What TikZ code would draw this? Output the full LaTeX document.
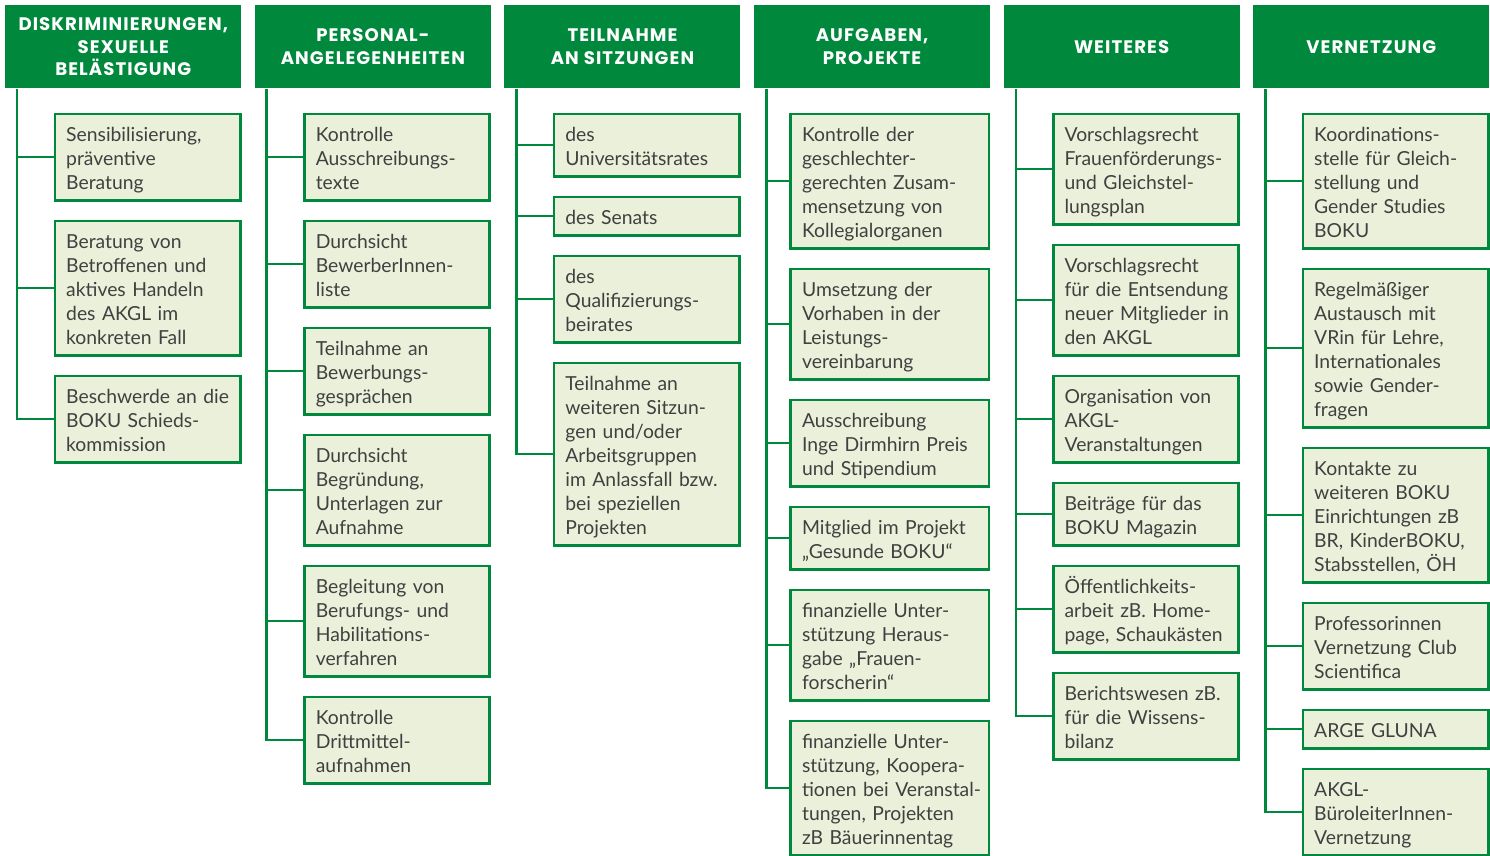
\documentclass[tikz,border=0pt]{standalone}
\usepackage{fontspec}
\setmainfont{Lato}
\newfontfamily\headfont[LetterSpace=6]{Poppins}
\usetikzlibrary{positioning}
\definecolor{gg}{RGB}{0,137,60}
\definecolor{lg}{RGB}{234,240,217}
\definecolor{tx}{RGB}{64,64,64}
\hyphenpenalty=10000
\exhyphenpenalty=10000
\hbadness=10000
\hfuzz=20pt

\begin{document}
\begin{tikzpicture}[
	head/.style={fill=gg, text=white, font=\headfont\bfseries\fontsize{13.6}{16.9}\selectfont,
		align=center, minimum width=177pt, minimum height=62.25pt, inner sep=0pt, anchor=north west},
	box/.style={draw=gg, line width=2pt, fill=lg, text=tx, font=\fontsize{14.5}{18}\selectfont,
		align=left, text width=122pt, inner xsep=8.5pt, inner ysep=0pt,
		execute at begin node={\rule{0pt}{20.75pt}}, execute at end node={\rule[-8pt]{0pt}{8pt}}},
	wbox/.style={box, text width=131.7pt},
	link/.style={draw=gg, line width=2pt}]
 	\useasboundingbox (0,0) rectangle (1117.5pt,-642pt);
 	% headers
 	\node[head] (h1) at (3.75pt,-3.75pt) {DISKRIMINIERUNGEN,\\SEXUELLE\\BELÄSTIGUNG};
 	\node[head, right=9.8pt of h1] (h2) {PERSONAL-\\ANGELEGENHEITEN};
 	\node[head, right=9.8pt of h2] (h3) {TEILNAHME\\AN SITZUNGEN};
 	\node[head, right=9.8pt of h3] (h4) {AUFGABEN,\\PROJEKTE};
 	\node[head, right=9.8pt of h4] (h5) {WEITERES};
 	\node[head, right=9.8pt of h5] (h6) {VERNETZUNG};
 	% Diskriminierungen
 	\node[box, below=18pt of h1.south east, anchor=north east] (a1) {Sensibilisierung,\\präventive\\Beratung};
 	\node[box, below=13.5pt of a1] (a2) {Beratung von\\Betroffenen und\\aktives Handeln\\des AKGL im\\konkreten Fall};
 	\node[box, below=13.5pt of a2] (a3) {Beschwerde~an~die\\BOKU Schieds-\\kommission};
 	% Personalangelegenheiten
 	\node[box, below=18pt of h2.south east, anchor=north east] (b1) {Kontrolle\\Ausschreibungs-\\texte};
 	\node[box, below=13.5pt of b1] (b2) {Durchsicht\\BewerberInnen-\\liste};
 	\node[box, below=13.5pt of b2] (b3) {Teilnahme an\\Bewerbungs-\\gesprächen};
 	\node[box, below=13.5pt of b3] (b4) {Durchsicht\\Begründung,\\Unterlagen zur\\Aufnahme};
 	\node[box, below=13.5pt of b4] (b5) {Begleitung von\\Berufungs- und\\Habilitations-\\verfahren};
 	\node[box, below=13.5pt of b5] (b6) {Kontrolle\\Drittmittel-\\aufnahmen};
 	% Sitzungen
 	\node[box, below=18pt of h3.south east, anchor=north east] (c1) {des\\Universitätsrates};
 	\node[box, below=13.5pt of c1] (c2) {des Senats};
 	\node[box, below=13.5pt of c2] (c3) {des\\Qualifizierungs-\\beirates};
 	\node[box, below=13.5pt of c3] (c4) {Teilnahme an\\weiteren Sitzun-\\gen und/oder\\Arbeitsgruppen\\im~Anlassfall~bzw.\\bei speziellen\\Projekten};
 	% Aufgaben
 	\node[wbox, below=18pt of h4.south east, anchor=north east] (d1) {Kontrolle der\\geschlechter-\\gerechten Zusam-\\mensetzung von\\Kollegialorganen};
 	\node[wbox, below=13.5pt of d1] (d2) {Umsetzung der\\Vorhaben in der\\Leistungs-\\vereinbarung};
 	\node[wbox, below=13.5pt of d2] (d3) {Ausschreibung\\Inge~Dirmhirn~Preis\\und Stipendium};
 	\node[wbox, below=13.5pt of d3] (d4) {Mitglied im Projekt\\„Gesunde BOKU“};
 	\node[wbox, below=13.5pt of d4] (d5) {finanzielle Unter-\\stützung Heraus-\\gabe „Frauen-\\forscherin“};
 	\node[wbox, below=13.5pt of d5] (d6) {finanzielle Unter-\\stützung, Koopera-\\tionen~bei~Veranstal-\\tungen, Projekten\\zB Bäuerinnentag};
 	% Weiteres
 	\node[box, below=18pt of h5.south east, anchor=north east] (e1) {Vorschlagsrecht\\Frauenförderungs-\\und Gleichstel-\\lungsplan};
 	\node[box, below=13.5pt of e1] (e2) {Vorschlagsrecht\\für~die~Entsendung\\neuer~Mitglieder~in\\den AKGL};
 	\node[box, below=13.5pt of e2] (e3) {Organisation von\\AKGL-\\Veranstaltungen};
 	\node[box, below=13.5pt of e3] (e4) {Beiträge für das\\BOKU Magazin};
 	\node[box, below=13.5pt of e4] (e5) {Öffentlichkeits-\\arbeit zB. Home-\\page,~Schaukästen};
 	\node[box, below=13.5pt of e5] (e6) {Berichtswesen~zB.\\für die Wissens-\\bilanz};
 	% Vernetzung
 	\node[box, below=18pt of h6.south east, anchor=north east] (f1) {Koordinations-\\stelle für Gleich-\\stellung und\\Gender Studies\\BOKU};
 	\node[box, below=13.5pt of f1] (f2) {Regelmäßiger\\Austausch mit\\VRin für Lehre,\\Internationales\\sowie Gender-\\fragen};
 	\node[box, below=13.5pt of f2] (f3) {Kontakte zu\\weiteren BOKU\\Einrichtungen zB\\BR, KinderBOKU,\\Stabsstellen, ÖH};
 	\node[box, below=13.5pt of f3] (f4) {Professorinnen\\Vernetzung Club\\Scientifica};
 	\node[box, below=13.5pt of f4] (f5) {ARGE GLUNA};
 	\node[box, below=13.5pt of f5] (f6) {AKGL-\\BüroleiterInnen-\\Vernetzung};
 	% trunks and branches
 	\draw[link] (h1.south west) ++(9pt,0) coordinate (t1) |- (a3.west);
 	\draw[link] (h2.south west) ++(9pt,0) coordinate (t2) |- (b6.west);
 	\draw[link] (h3.south west) ++(9.4pt,0) coordinate (t3) |- (c4.west);
 	\draw[link] (h4.south west) ++(9.4pt,0) coordinate (t4) |- (d6.west);
 	\draw[link] (h5.south west) ++(9.4pt,0) coordinate (t5) |- (e6.west);
 	\draw[link] (h6.south west) ++(9.4pt,0) coordinate (t6) |- (f6.west);
 	\foreach \b in {a1,a2} \draw[link] (\b.west) -- (\b.west -| t1);
 	\foreach \b in {b1,b2,b3,b4,b5} \draw[link] (\b.west) -- (\b.west -| t2);
 	\foreach \b in {c1,c2,c3} \draw[link] (\b.west) -- (\b.west -| t3);
 	\foreach \b in {d1,d2,d3,d4,d5} \draw[link] (\b.west) -- (\b.west -| t4);
 	\foreach \b in {e1,e2,e3,e4,e5} \draw[link] (\b.west) -- (\b.west -| t5);
 	\foreach \b in {f1,f2,f3,f4,f5} \draw[link] (\b.west) -- (\b.west -| t6);
\end{tikzpicture}
\end{document}
